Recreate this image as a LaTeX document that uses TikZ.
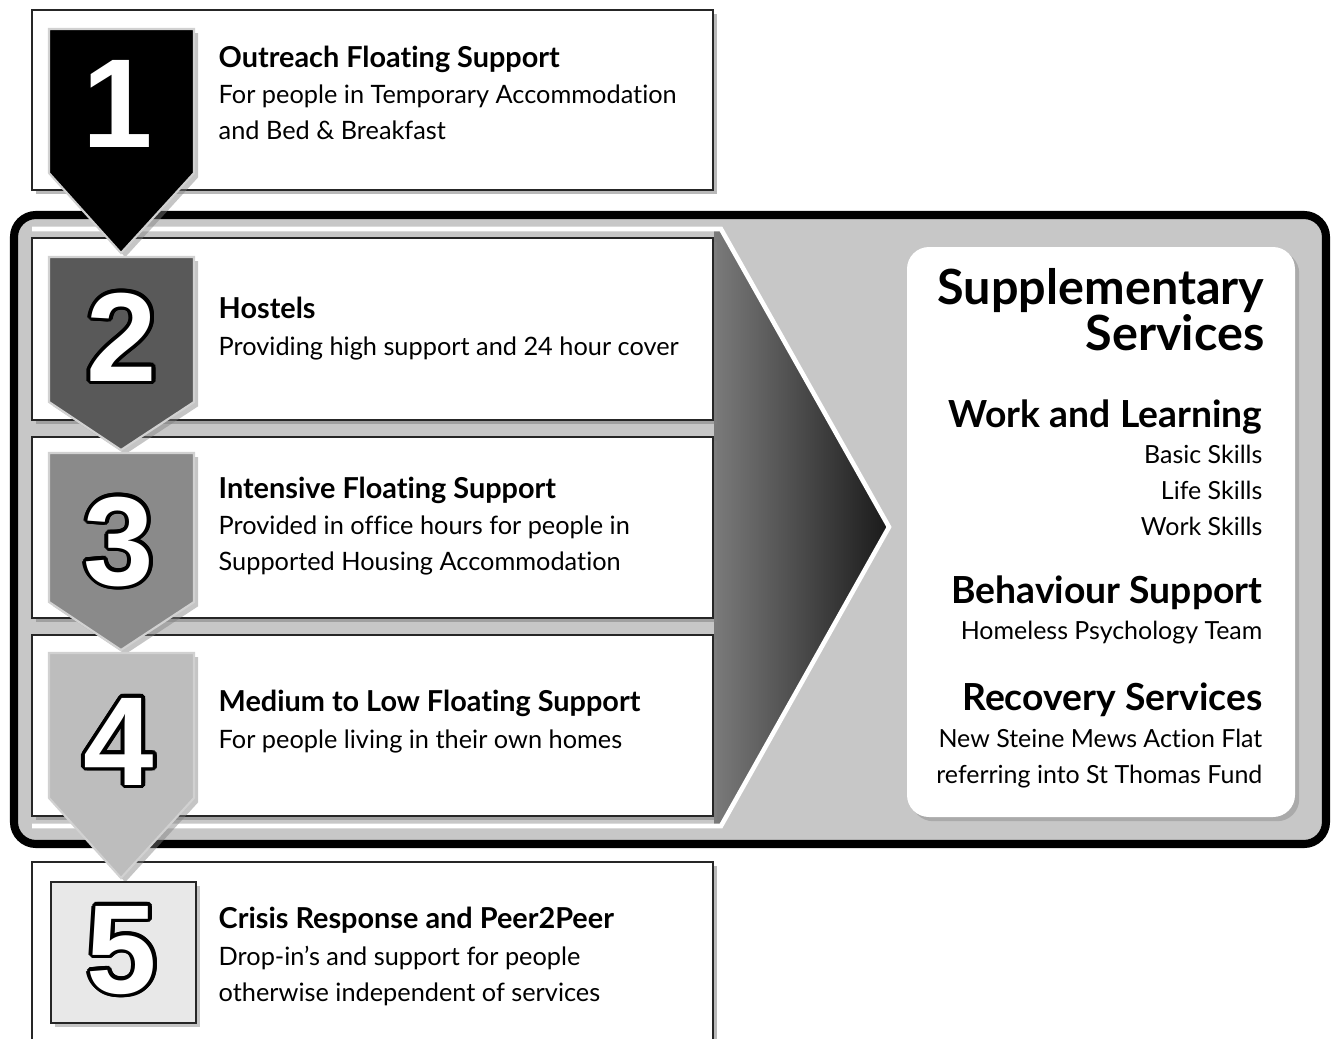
\documentclass[tikz,border=0pt]{standalone}
\usepackage{fontspec}
\setmainfont{Lato}[Ligatures=NoCommon]
\newfontfamily\digitfont{Liberation Sans}
\usepackage{contour}
\contourlength{1.1pt}
\usetikzlibrary{shadows}

% arrow shaped marker: [fill](top:end of sides:tip)
\def\stepmarker[#1](#2:#3:#4){\draw[marker,fill=#1] (49,#2) -- (194,#2) -- (194,#3) -- (121,#4) -- (49,#3) -- cycle;}

\tikzset{
	tierbox/.style={draw=black!85, line width=0.65pt, fill=white,
		drop shadow={shadow xshift=1pt, shadow yshift=-1pt, opacity=0.55}},
	marker/.style={draw=black!18, line width=0.6pt,
		drop shadow={shadow xshift=1.2pt, shadow yshift=-1.2pt, opacity=0.45}},
	digit/.style={anchor=base, inner sep=0, text=white,
		font=\digitfont\bfseries\fontsize{36}{36}\selectfont},
	head/.style={anchor=base west, inner sep=0, font=\fontsize{8.2}{9}\selectfont\bfseries},
	body/.style={anchor=base west, inner sep=0, font=\fontsize{7.2}{9}\selectfont},
	suphead/.style={anchor=base east, inner sep=0, font=\fontsize{10.6}{12}\selectfont\bfseries},
	supbody/.style={anchor=base east, inner sep=0, font=\fontsize{7.1}{9}\selectfont},
}

\begin{document}
\begin{tikzpicture}[x=0.01cm, y=-0.01cm]
		%%%%% START %%%%%
		\clip (0,0) rectangle (1332,1039);
		\fill[white] (0,0) rectangle (1332,1039);
		
		% tier 1, outside the frame
		\draw[tierbox] (32,10) rectangle (713,190);
		
		% frame round tiers 2 to 4
		\draw[line width=2.3pt, fill=black!22, rounded corners=0.22cm] (14,215) rectangle (1326,844);
		
		% big arrow towards the supplementary services
		\shade[left color=black!52, right color=black!90] (714,231) -- (721,231) -- (889,527) -- (721,824) -- (714,824) -- cycle;
		\draw[white, line width=1.3pt] (32,229) -- (721,229) -- (889,527) -- (721,826) -- (32,826);
		
		\draw[tierbox] (32,238) rectangle (713,420);
		\draw[tierbox] (32,437) rectangle (713,618);
		\draw[tierbox] (32,635) rectangle (713,816);
		
		% tier 5, below the frame
		\draw[tierbox] (32,862) rectangle (713,1080);
		
		% supplementary services
		\fill[white, rounded corners=0.22cm, drop shadow={shadow xshift=1.2pt, shadow yshift=-1.2pt, opacity=0.4}] (907,247) rectangle (1295,817);
		
		\node[suphead, font=\fontsize{13.8}{15}\selectfont\bfseries] (sup1) at (1265,304) {Supplementary};
		\node[suphead, font=\fontsize{13.8}{15}\selectfont\bfseries] (sup2) at (1265,350) {Services};
		
		\node[suphead] (work) at (1263,427) {Work and Learning};
		\node[supbody] (work1) at (1263,463) {Basic Skills};
		\node[supbody] (work2) at (1263,499) {Life Skills};
		\node[supbody] (work3) at (1263,535) {Work Skills};
		
		\node[suphead] (behav) at (1263,603) {Behaviour Support};
		\node[supbody] (behav1) at (1263,639) {Homeless Psychology Team};
		
		\node[suphead] (recov) at (1263,710) {Recovery Services};
		\node[supbody] (recov1) at (1263,747) {New Steine Mews Action Flat};
		\node[supbody] (recov2) at (1263,783) {referring into St Thomas Fund};
		
		% tier texts
		\node[head] (t1) at (218,67) {Outreach Floating Support};
		\node[body] (t1a) at (218,103) {For people in Temporary Accommodation};
		\node[body] (t1b) at (218,139) {and Bed \& Breakfast};
		
		\node[head] (t2) at (218,318) {Hostels};
		\node[body] (t2a) at (218,355) {Providing high support and 24 hour cover};
		
		\node[head] (t3) at (218,498) {Intensive Floating Support};
		\node[body] (t3a) at (218,534) {Provided in office hours for people in};
		\node[body] (t3b) at (218,570) {Supported Housing Accommodation};
		
		\node[head] (t4) at (218,711) {Medium to Low Floating Support};
		\node[body] (t4a) at (218,748) {For people living in their own homes};
		
		\node[head] (t5) at (218,928) {Crisis Response and Peer2Peer};
		\node[body] (t5a) at (218,965) {Drop-in’s and support for people};
		\node[body] (t5b) at (218,1001) {otherwise independent of services};
		
		% step markers, each one pointing into the next
		\stepmarker[black](29:173:253)
		\stepmarker[black!65](257:402:450)
		\stepmarker[black!46](453:602:650)
		\stepmarker[black!26](653:798:878)
		\draw[draw=black!85, line width=0.65pt, fill=black!9,
			drop shadow={shadow xshift=1.2pt, shadow yshift=-1.2pt, opacity=0.45}] (51,882) rectangle (196,1023);
		
		\node[digit] (n1) at (118,147) {1};
		\node[digit] (n2) at (122,381) {\contour{black}{2}};
		\node[digit] (n3) at (119,585) {\contour{black}{3}};
		\node[digit] (n4) at (119,785) {\contour{black}{4}};
		\node[digit] (n5) at (122,993) {\contour{black}{5}};
		
		%%%%% END %%%%%
\end{tikzpicture}
\end{document}
